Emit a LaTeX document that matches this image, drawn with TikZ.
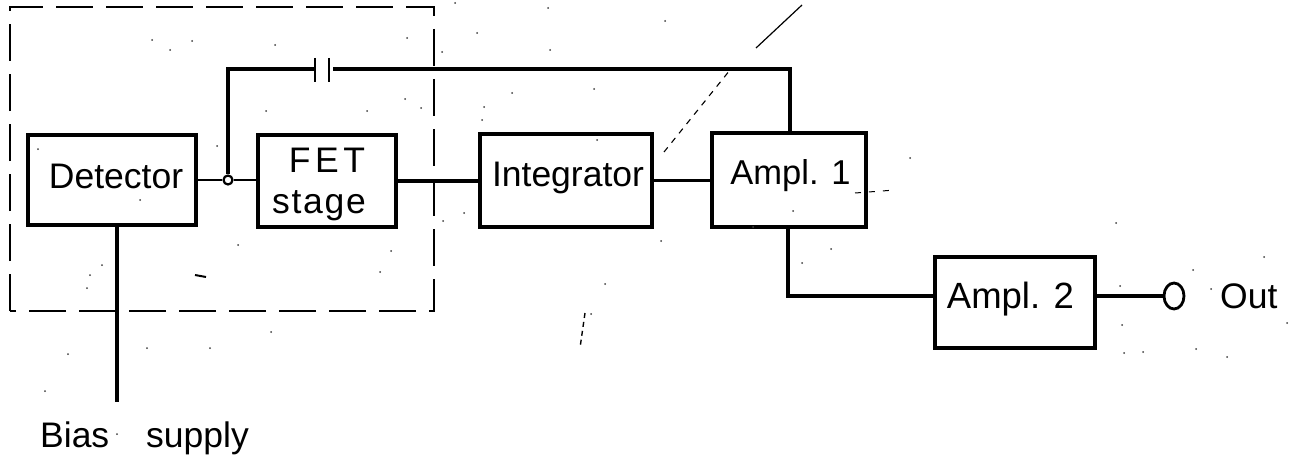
\documentclass[tikz,border=0pt]{standalone}
\usepackage{fontspec}
\setmainfont{Liberation Sans}
\usetikzlibrary{shapes.geometric}
\tikzset{
  x=1pt,y=-1pt,
  wire/.style={line width=3.4pt,line join=miter,line cap=butt},
  thinwire/.style={line width=2.8pt},
  blockbox/.style={draw,line width=3.4pt,outer sep=0pt,inner sep=0pt,align=center,font=\fontsize{35.5}{41}\selectfont,text depth=0pt},
  labeltext/.style={inner sep=0pt,font=\fontsize{35.5}{41}\selectfont},
  enclosure/.style={draw,line width=2pt,dash pattern=on 37pt off 13pt},
  scratch/.style={line width=1.1pt,dash pattern=on 6pt off 6pt},
  speck/.style={fill=black!75},
}
\begin{document}
\begin{tikzpicture}
\useasboundingbox (0,0) rectangle (1291,460);
\fill[white] (0,0) rectangle (1291,460);
% enclosure
\draw[enclosure] (10,311) -- (10,7) -- (434,7) -- (434,311) -- cycle;
% blocks
\node[blockbox,minimum width=168pt,minimum height=90pt,text height=16pt] (det) at (112,180) {\hspace*{8pt}Detector};
\node[blockbox,minimum width=138pt,minimum height=92pt,text height=64pt,text depth=0pt] (fet) at (327,181) {F\hspace{4.5pt}E\hspace{4.5pt}T\\{\addfontfeature{LetterSpace=5}stage}\kern16pt};
\node[blockbox,minimum width=172pt,minimum height=93pt,text height=11pt] (int) at (566,180.5) {\hspace*{4pt}Integrator};
\node[blockbox,minimum width=154pt,minimum height=94pt,text height=8pt,font=\fontsize{34.5}{41}\selectfont] (a1) at (789,180) {\hspace*{3pt}Ampl. 1};
\node[blockbox,minimum width=160pt,minimum height=91pt,text height=11pt,font=\fontsize{36.5}{41}\selectfont] (a2) at (1015,302.5) {Ampl. 2\kern9pt};
% junctions and terminals
\node[draw,circle,line width=2.2pt,fill=white,minimum size=9pt,inner sep=0pt] (jn) at (228,180) {};
\node[draw,ellipse,line width=2.8pt,minimum width=20pt,minimum height=26pt,inner sep=0pt] (outc) at (1174,296) {};
\coordinate (capl) at (315,69);
\coordinate (capr) at (333,69);
\coordinate (a2in) at (935,296);
\coordinate (a2out) at (1095,296);
\coordinate (biasend) at (117,402);
\coordinate (a1top) at (790,133);
\coordinate (a1bot) at (788,227);
% connectors
\draw[thinwire] (det.east) -- (jn.west);
\draw[thinwire] (jn.east) -- (jn.east -| fet.west);
\draw[wire] (fet.east) -- (fet.east -| int.west);
\draw[wire] (int.east) -- (int.east -| a1.west);
\draw[wire] (jn.north) -- (jn.north |- capl) -- (capl);
\draw[wire] (capr) -- (capr -| a1top) -- (a1top);
\draw[wire] (a1bot) -- (a1bot |- a2in) -- (a2in);
\draw[wire] (a2out) -- (outc.west);
\draw[wire] (biasend |- det.south) -- (biasend);
% capacitor plates
\draw[line width=2.8pt] (315,58) -- (315,82);
\draw[line width=2.8pt] (329,58) -- (329,82);
% text
\node[labeltext,anchor=base west] (outlabel) at (1220,308) {Out};
\node[labeltext,anchor=base west] (biaslabel) at (40,447) {Bias\hspace{37pt}supply};
% reproduction marks
\draw[line width=1.2pt] (756,48) -- (802,5);
\draw[scratch] (664,152) -- (730,70);
\draw[line width=1pt,dash pattern=on 6pt off 8pt] (855,193) -- (895,190);
\draw[scratch,line width=1.4pt,dash pattern=on 5pt off 4pt] (585,313) -- (580,348);
\draw[line width=2pt] (195,275) -- (206,277);
\foreach \px/\py in {152/40,170/50,192/41,275/45,407/38,442/52,455/3,367/111,405/99,421/108,266/111,217/146,140/200,238/245,391/251,443/221,90/275,102/265,87/288,380/272,38/149,
548/8,665/21,477/33,550/50,512/93,594/89,482/120,484/107,597/140,464/213,661/241,793/211,831/249,802/263,605/284,591/314,910/158,753/227,
1116/223,1120/286,1124/353,1143/352,1196/349,1122/325,1264/257,1193/270,1211/289,1287/323,1227/357,
147/348,210/348,271/332,45/391,68/354,117/434}
  \fill[speck] (\px,\py) circle (1pt);
\end{tikzpicture}
\end{document}
